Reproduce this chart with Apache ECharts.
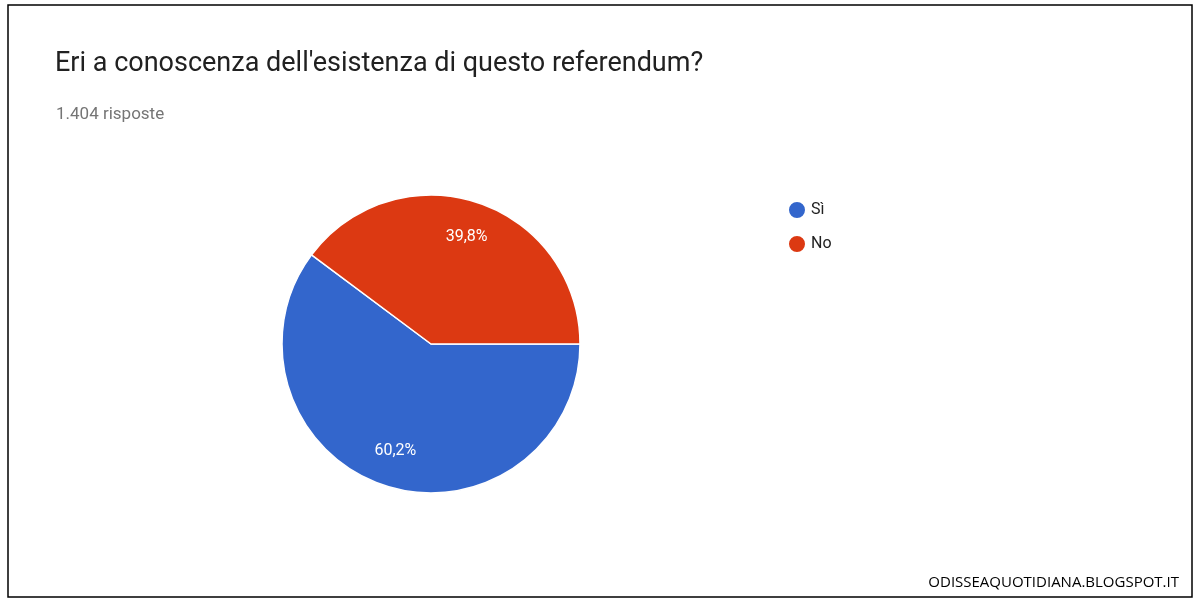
<!DOCTYPE html>
<html><head><meta charset="utf-8">
<script src="https://cdn.jsdelivr.net/npm/echarts@6/dist/echarts.min.js"></script>
<style>html,body{margin:0;padding:0;background:#fff}#c{width:1200px;height:602px}</style>
</head><body><div id="c"></div>
<script>
const categories = ['Sì', 'No'];
const values = [60.2, 39.8];
const colors = ['#3366cc', '#dc3912'];
const titleText = "Eri a conoscenza dell'esistenza di questo referendum?";
const subtitleText = '1.404 risposte';
const watermark = 'ODISSEAQUOTIDIANA.BLOGSPOT.IT';

const data = categories.map((c, i) => ({ name: c, value: values[i], itemStyle: { color: colors[i] } }));
const chart = echarts.init(document.getElementById('c'));
chart.setOption({
  animation: false,
  title: [
    { text: titleText, left: 50, top: 46, textStyle: { fontFamily: 'Roboto', fontSize: 27, fontWeight: 'normal', color: '#212121' } },
    { text: subtitleText, left: 51, top: 101, textStyle: { fontFamily: 'Roboto', fontSize: 17, fontWeight: 'normal', color: '#757575' } },
    { text: watermark, right: 16, top: 570, textStyle: { fontFamily: 'Open Sans', fontSize: 15, fontWeight: 'normal', color: '#000' } }
  ],
  legend: {
    orient: 'vertical', left: 782, top: 195, icon: 'circle', itemWidth: 18, itemHeight: 18, itemGap: 14,
    data: categories,
    textStyle: { fontFamily: 'Roboto', fontSize: 16, color: '#222' }
  },
  graphic: [{ type: 'rect', shape: { x: 8, y: 5, width: 1184, height: 592 }, style: { fill: 'none', stroke: '#000', lineWidth: 1.5 }, silent: true }],
  series: [
    {
      type: 'pie', center: [431, 344], radius: [0, 149], startAngle: 0, clockwise: true,
      data, label: { show: false }, labelLine: { show: false },
      itemStyle: { borderColor: '#fff', borderWidth: 1.5 }
    },
    {
      type: 'pie', center: [431, 344], radius: [71, 149], startAngle: 0, clockwise: true, silent: true,
      data: categories.map((c, i) => ({ name: c, value: values[i], itemStyle: { color: 'transparent' } })),
      label: { show: true, position: 'inside', color: '#fff', fontFamily: 'Roboto', fontSize: 16,
        formatter: p => p.value.toFixed(1).replace('.', ',') + '%' },
      labelLine: { show: false }, legendHoverLink: false
    }
  ]
});
</script></body></html>
